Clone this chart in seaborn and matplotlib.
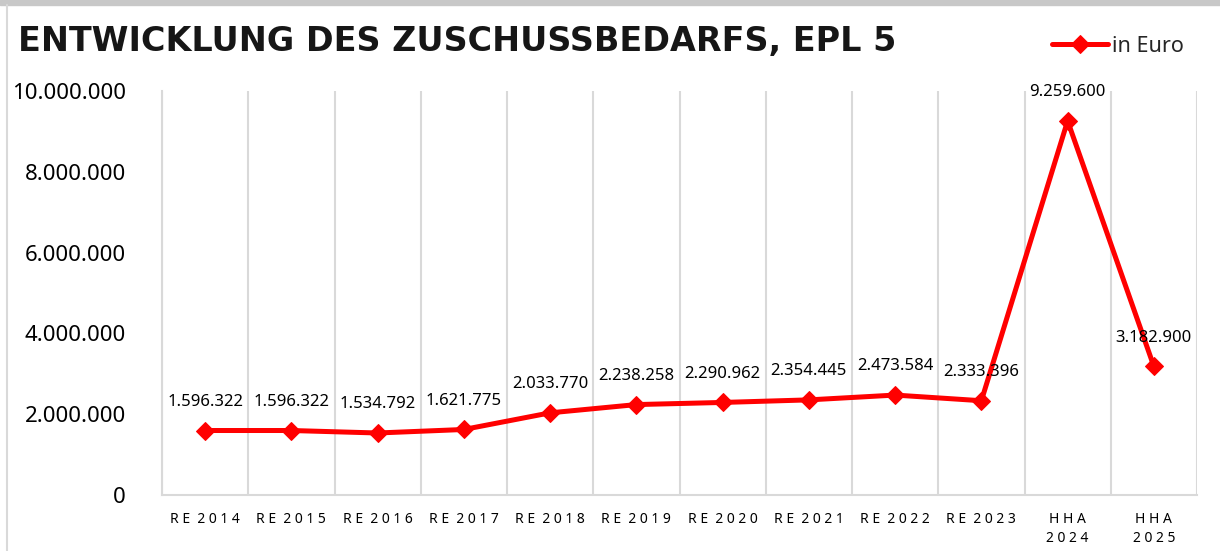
import matplotlib
matplotlib.use("Agg")
import matplotlib.pyplot as plt
import seaborn as sns
import pandas as pd
import numpy as np
from matplotlib.ticker import FuncFormatter, FixedLocator

categories = ["RE 2014", "RE 2015", "RE 2016", "RE 2017", "RE 2018", "RE 2019",
              "RE 2020", "RE 2021", "RE 2022", "RE 2023", "HHA\n2024", "HHA\n2025"]
values = [1596322, 1596322, 1534792, 1621775, 2033770, 2238258,
          2290962, 2354445, 2473584, 2333396, 9259600, 3182900]
series_name = "in Euro"
title = "ENTWICKLUNG DES ZUSCHUSSBEDARFS, EPL 5"

sns.set_theme(style="white")
plt.rcParams['font.family'] = ['Noto Sans', 'DejaVu Sans']

df = pd.DataFrame({"cat": categories, "val": values, "series": series_name})

fig = plt.figure(figsize=(12.2, 5.51), dpi=100)
ax = fig.add_axes([162/1220, 1 - 495/551, (1197-162)/1220, (495-91)/551])

sns.lineplot(data=df, x="cat", y="val", hue="series", palette=["#ff0000"],
             marker="D", markersize=9, linewidth=3.6, sort=False, ax=ax,
             markeredgecolor="#ff0000")

def spaced(label):
    # visual letter spacing as in the original axis labels
    return "\n".join("  ".join(" ".join(word) for word in line.split(" "))
                     for line in label.split("\n"))

ax.set_ylim(0, 10_000_000)
ax.set_xlim(-0.5, len(categories) - 0.5)
ax.set_yticks(np.arange(0, 10_000_001, 2_000_000))
ax.yaxis.set_major_formatter(FuncFormatter(lambda v, p: f"{int(v):,}".replace(",", ".")))
ax.set_xticks(range(len(categories)))
ax.set_xticklabels([spaced(c) for c in categories], fontsize=10, linespacing=1.3)
ax.xaxis.set_minor_locator(FixedLocator(np.arange(-0.5, len(categories), 1.0)))
ax.grid(False)
ax.grid(True, which="minor", axis="x", color="#d9d9d9", linewidth=1.5)
ax.tick_params(axis="y", labelsize=16, pad=26, length=0, colors="black")
ax.tick_params(axis="x", which="both", length=0, pad=12.5, colors="black")
for side in ["top", "right"]:
    ax.spines[side].set_visible(False)
for side in ["left", "bottom"]:
    ax.spines[side].set_color("#d9d9d9")
    ax.spines[side].set_linewidth(1.5)
ax.set_xlabel("")
ax.set_ylabel("")

for i, v in enumerate(values):
    ax.annotate(f"{v:,}".replace(",", "."), (i, v), xytext=(0, 15), textcoords="offset points",
                ha="center", va="bottom", fontsize=12, color="black", annotation_clip=False)

leg = ax.legend(loc="upper right", bbox_to_anchor=(1192/1220, 1 - 27/551),
                bbox_transform=fig.transFigure, frameon=False, fontsize=15.5,
                handlelength=2.6, handletextpad=0.15, borderaxespad=0)

fig.text(18/1220, 1 - 42/551, title, fontsize=24, fontweight="bold",
         ha="left", va="center", color="#161616", family=["DejaVu Sans"])

# frame decorations of the original screenshot
fig.patches.append(plt.Rectangle((0, 1 - 5/551), 1, 5/551, transform=fig.transFigure,
                                 color="#c8c8c8", zorder=0))
fig.lines.append(plt.Line2D([7/1220, 7/1220], [0, 1 - 5/551], transform=fig.transFigure,
                            color="#d9d9d9", linewidth=1.5))

fig.savefig("out.png", dpi=100)
